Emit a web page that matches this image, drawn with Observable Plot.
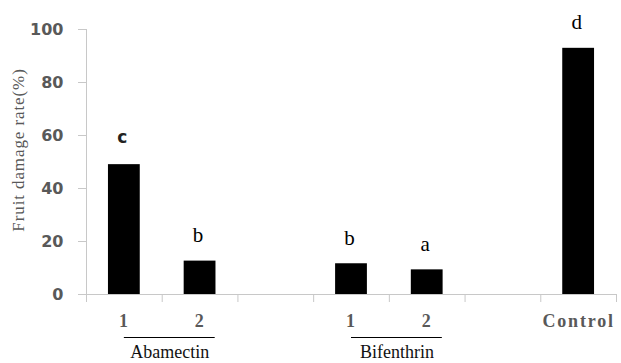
<!DOCTYPE html>
<html>
<head>
<meta charset="utf-8">
<script src="https://cdn.jsdelivr.net/npm/d3@7"></script>
<script src="https://cdn.jsdelivr.net/npm/@observablehq/plot@0.6"></script>
<style>
  html, body { margin: 0; padding: 0; background: #fff; }
  g[aria-label="x-axis tick label"] text { letter-spacing: 1.8px; }
  .ylab text { letter-spacing: 0.9px; }
</style>
</head>
<body>
<script>
// Categories (slots on the x axis; empty strings are gaps between groups)
const categories = ["1", "2", "", "1", "2", "", "Control"];
// Fruit damage rate (%) per slot, null for gaps
const values = [49.0, 12.6, null, 11.6, 9.3, null, 92.9];
// Significance letters per slot
const letters = ["c", "b", "", "b", "a", "", "d"];
// Treatment groups and the slots they cover
const groupNames = ["Abamectin", "Bifenthrin"];
const groupSlots = [[0, 1], [3, 4]];
// Y ticks
const yTicks = [0, 20, 40, 60, 80, 100];
const yLabel = "Fruit damage rate(%)";

const bars = categories
  .map((c, i) => ({i, label: c, value: values[i], letter: letters[i]}))
  .filter(d => d.value != null);
const groups = groupNames.map((name, k) => ({name, from: groupSlots[k][0], to: groupSlots[k][1]}));
const boundaries = d3.range(categories.length + 1).map(i => i - 0.5);
const labelled = bars.map(d => d.i);

const gray = "#595959";
const axisGray = "#c8c8c8";
const serif = "Liberation Serif, Times New Roman, serif";
const sans = "DejaVu Sans, sans-serif";

const chart = Plot.plot({
  width: 621,
  height: 363,
  marginLeft: 86,
  marginRight: 5,
  marginTop: 29,
  marginBottom: 69,
  style: {background: "white", overflow: "visible"},
  x: {type: "linear", domain: [-0.5, categories.length - 0.5]},
  y: {domain: [0, 100]},
  marks: [
    Plot.ruleX([-0.5], {y1: 0, y2: 100, stroke: axisGray}),
    Plot.ruleY([0], {x1: -0.5, x2: categories.length - 0.5, stroke: axisGray}),
    Plot.axisY({
      ticks: yTicks, tickSize: 8, tickPadding: 15, stroke: axisGray, fill: gray,
      fontSize: 16, fontFamily: sans, fontWeight: "bold", label: null
    }),
    Plot.axisX({
      ticks: boundaries, tickSize: 8, tickFormat: () => "", stroke: axisGray, label: null
    }),
    Plot.axisX({
      ticks: labelled, tickSize: 0, tickPadding: 20, tickFormat: i => categories[i],
      fill: gray, fontSize: 18, fontFamily: serif, fontWeight: "bold", label: null
    }),
    Plot.rectY(bars, {x1: d => d.i - 0.21, x2: d => d.i + 0.21, y: "value", fill: "#000"}),
    Plot.text(bars.filter(d => d.letter !== "c"), {
      x: d => d.i, y: "value", text: "letter", dx: -2, dy: -19, lineAnchor: "bottom",
      fontFamily: serif, fontSize: 21, fill: "#000"
    }),
    Plot.text(bars.filter(d => d.letter === "c"), {
      x: d => d.i, y: "value", text: "letter", dx: -2, dy: -22, lineAnchor: "bottom",
      fontFamily: sans, fontWeight: "bold", fontSize: 17, fill: "#222"
    }),
    Plot.ruleY(groups, {y: 0, x1: d => d.from, x2: d => d.to + 0.2, dy: 43, stroke: "#000"}),
    Plot.text(groups, {
      x: d => (d.from + d.to + 0.2) / 2, y: 0, text: "name", dy: 63, lineAnchor: "bottom",
      fontFamily: serif, fontSize: 18, fill: "#111"
    }),
    Plot.text([yLabel], {
      frameAnchor: "left", textAnchor: "middle", rotate: -90, dx: -68, dy: -12, text: d => d,
      fontFamily: serif, fontSize: 17, fill: gray, className: "ylab"
    })
  ]
});
document.body.appendChild(chart);
</script>
</body>
</html>
